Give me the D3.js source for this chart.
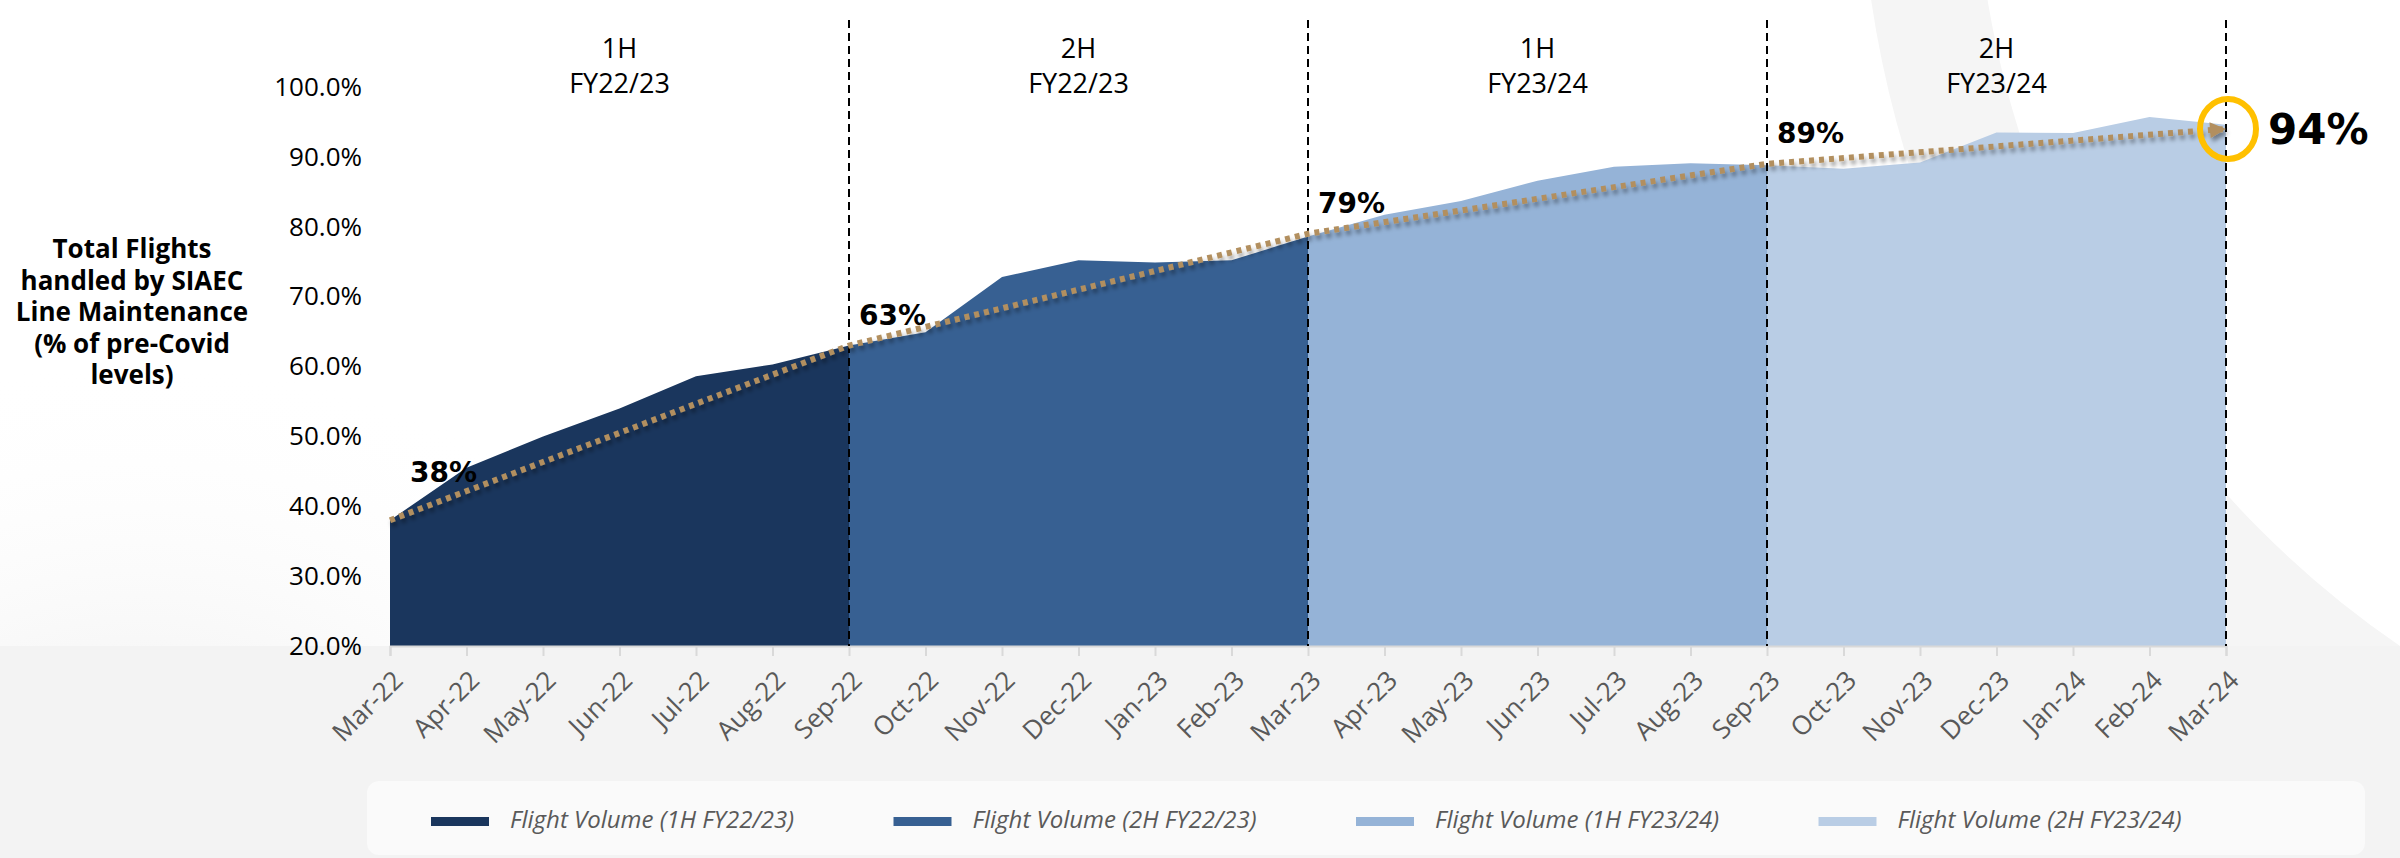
<!DOCTYPE html>
<html>
<head>
<meta charset="utf-8">
<script src="https://cdn.jsdelivr.net/npm/d3@7"></script>
<style>
    body { margin: 0; background: #ffffff; }
    svg { display: block; }
</style>
</head>
<body>
<div id="chart"></div>
<script>
// DATA
var months = ["Mar-22", "Apr-22", "May-22", "Jun-22", "Jul-22", "Aug-22", "Sep-22",
              "Oct-22", "Nov-22", "Dec-22", "Jan-23", "Feb-23", "Mar-23",
              "Apr-23", "May-23", "Jun-23", "Jul-23", "Aug-23", "Sep-23",
              "Oct-23", "Nov-23", "Dec-23", "Jan-24", "Feb-24", "Mar-24"];
var flightVolume = [38.0, 45.5, 50.0, 54.0, 58.6, 60.3, 63.0,
                    64.9, 72.8, 75.2, 74.9, 75.2, 78.6,
                    81.7, 83.7, 86.6, 88.6, 89.1, 88.8,
                    88.3, 89.2, 93.5, 93.4, 95.7, 94.6];

var halfNames = ["1H FY22/23", "2H FY22/23", "1H FY23/24", "2H FY23/24"];
var halfStart = ["Mar-22", "Sep-22", "Mar-23", "Sep-23"];
var halfEnd = ["Sep-22", "Mar-23", "Sep-23", "Mar-24"];
var halfColors = ["#1A365D", "#376092", "#95B3D7", "#B9CDE5"];

var trendMonths = ["Mar-22", "Sep-22", "Mar-23", "Sep-23", "Mar-24"];
var trendValues = [38, 63, 79, 89, 94];

var yTicks = [20, 30, 40, 50, 60, 70, 80, 90, 100];
var yTitle = ["Total Flights", "handled by SIAEC", "Line Maintenance", "(% of pre-Covid", "levels)"];


// SETUP
var svgWidth = 2400;
var svgHeight = 858;
var margins = { top: 87, bottom: 212, left: 390, right: 174 };

var svg = d3.select("#chart")
    .append("svg")
        .attr("width", svgWidth)
        .attr("height", svgHeight);

var defs = svg.append("defs");

var shadow = defs.append("filter")
    .attr("id", "shadow")
    .attr("x", "-5%").attr("y", "-50%")
    .attr("width", "110%").attr("height", "200%");
shadow.append("feDropShadow")
    .attr("dx", 2).attr("dy", 4)
    .attr("stdDeviation", 2.2)
    .attr("flood-color", "#000")
    .attr("flood-opacity", 0.4);

var leftGlow = defs.append("radialGradient")
    .attr("id", "leftGlow")
    .attr("cx", "0.2").attr("cy", "1").attr("r", "0.9");
leftGlow.append("stop").attr("offset", "0%").attr("stop-color", "#e9e9e9");
leftGlow.append("stop").attr("offset", "100%").attr("stop-color", "#ffffff").attr("stop-opacity", 0);

defs.append("marker")
    .attr("id", "arrow")
    .attr("viewBox", "0 0 10 10")
    .attr("refX", 10).attr("refY", 5)
    .attr("markerUnits", "userSpaceOnUse")
    .attr("markerWidth", 17).attr("markerHeight", 16)
    .attr("orient", "auto")
    .append("path")
        .attr("d", "M0,0 L10,5 L0,10 Z")
        .attr("fill", "#B28F5E");


// BACKGROUND
svg.append("rect")
    .attr("x", 0).attr("y", 0)
    .attr("width", svgWidth).attr("height", svgHeight)
    .attr("fill", "#ffffff");
svg.append("rect")
    .attr("x", 0).attr("y", 300)
    .attr("width", 700).attr("height", 558)
    .attr("fill", "url(#leftGlow)");
svg.append("circle")
    .attr("cx", 2950).attr("cy", -160)
    .attr("r", 1033)
    .attr("fill", "none")
    .attr("stroke", "#f5f5f5")
    .attr("stroke-width", 115);
svg.append("rect")
    .attr("x", 0).attr("y", svgHeight - margins.bottom)
    .attr("width", svgWidth).attr("height", margins.bottom)
    .attr("fill", "#f3f3f3");


// SCALES
var x = d3.scalePoint()
    .domain(months)
    .range([margins.left, svgWidth - margins.right]);

var y = d3.scaleLinear()
    .domain([20, 100])
    .range([svgHeight - margins.bottom, margins.top]);


// AREAS (one per half year)
var area = d3.area()
    .x(d => x(d.month))
    .y0(y(20))
    .y1(d => y(d.value));

halfNames.forEach(function(name, i) {
    var a = months.indexOf(halfStart[i]);
    var b = months.indexOf(halfEnd[i]);
    var pts = [];
    for (var k = a; k <= b; k++) {
        pts.push({ month: months[k], value: flightVolume[k] });
    }
    svg.append("path")
        .datum(pts)
        .attr("fill", halfColors[i])
        .attr("d", area);
});


// AXES
var yAxis = svg.append("g")
    .attr("transform", "translate(" + margins.left + ",0)")
    .call(d3.axisLeft(y)
        .tickValues(yTicks)
        .tickSize(0)
        .tickPadding(28)
        .tickFormat(d => d3.format(".1f")(d) + "%"));
yAxis.select(".domain").remove();
yAxis.selectAll("text")
    .style("font-family", "'Open Sans'")
    .style("font-size", "26px")
    .attr("fill", "#000");

var xAxis = svg.append("g")
    .attr("transform", "translate(0," + y(20) + ")")
    .call(d3.axisBottom(x).tickSize(10).tickPadding(0));
xAxis.select(".domain")
    .attr("stroke", "#d9d9d9")
    .attr("stroke-width", 2);
xAxis.selectAll(".tick line")
    .attr("stroke", "#d9d9d9")
    .attr("stroke-width", 2);
xAxis.selectAll("text")
    .style("font-family", "'Open Sans'")
    .style("font-size", "26px")
    .attr("fill", "#595959")
    .attr("text-anchor", "end")
    .attr("dy", 0)
    .attr("y", 0)
    .attr("transform", "translate(14,36) rotate(-45)");


// HALF-YEAR DIVIDERS AND TITLES
svg.selectAll(".divider")
    .data(halfEnd)
    .enter()
    .append("line")
        .attr("x1", d => x(d)).attr("x2", d => x(d))
        .attr("y1", 20).attr("y2", y(20))
        .attr("stroke", "#000")
        .attr("stroke-width", 2)
        .attr("stroke-dasharray", "8,5");

halfNames.forEach(function(name, i) {
    var cx = (x(halfStart[i]) + x(halfEnd[i])) / 2;
    var parts = name.split(" ");
    var t = svg.append("text")
        .attr("x", cx)
        .attr("text-anchor", "middle")
        .style("font-family", "'Open Sans'")
        .style("font-size", "27px")
        .attr("fill", "#000");
    t.append("tspan").attr("x", cx).attr("y", 58).text(parts[0]);
    t.append("tspan").attr("x", cx).attr("y", 93).text(parts[1]);
});


// TREND LINE
var trendPts = trendMonths.map((m, i) => ({ month: m, value: trendValues[i] }));
svg.append("path")
    .datum(trendPts)
    .attr("fill", "none")
    .attr("stroke", "#B28F5E")
    .attr("stroke-width", 6)
    .attr("stroke-dasharray", "5,5")
    .attr("marker-end", "url(#arrow)")
    .attr("filter", "url(#shadow)")
    .attr("d", d3.line()
        .x(d => x(d.month))
        .y(d => y(d.value)));

// Trend labels
svg.selectAll(".trendLabel")
    .data(trendPts.slice(0, trendPts.length - 1))
    .enter()
    .append("text")
        .attr("x", (d, i) => x(d.month) + (i == 0 ? 20 : 10))
        .attr("y", (d, i) => y(d.value) - (i == 0 ? 38 : 21))
        .style("font-family", "'DejaVu Sans'")
        .style("font-weight", "bold")
        .style("font-size", "28px")
        .attr("fill", "#000")
        .text(d => d.value + "%");

// Highlight last point
var last = trendPts[trendPts.length - 1];
svg.append("ellipse")
    .attr("cx", x(last.month) + 2)
    .attr("cy", y(last.value))
    .attr("rx", 28)
    .attr("ry", 30)
    .attr("fill", "none")
    .attr("stroke", "#FFC000")
    .attr("stroke-width", 6);
svg.append("text")
    .attr("x", x(last.month) + 42)
    .attr("y", y(last.value) + 15)
    .style("font-family", "'DejaVu Sans'")
    .style("font-weight", "bold")
    .style("font-size", "42px")
    .attr("fill", "#000")
    .text(last.value + "%");


// Y TITLE
var title = svg.append("text")
    .attr("text-anchor", "middle")
    .style("font-family", "'Open Sans'")
    .style("font-weight", "bold")
    .style("font-size", "26px")
    .attr("fill", "#000");
yTitle.forEach(function(line, i) {
    title.append("tspan")
        .attr("x", 132)
        .attr("y", 258 + i * 31.5)
        .text(line);
});


// LEGEND
svg.append("rect")
    .attr("x", 367).attr("y", 781)
    .attr("width", 1998).attr("height", 74)
    .attr("rx", 12)
    .attr("fill", "#fafafa");

var legend = svg.selectAll(".legend")
    .data(halfNames)
    .enter()
    .append("g")
        .attr("transform", (d, i) => "translate(" + (431 + i * 462.5) + ",822)");
legend.append("rect")
    .attr("x", 0).attr("y", -5)
    .attr("width", 58).attr("height", 9)
    .attr("fill", (d, i) => halfColors[i]);
legend.append("text")
    .attr("x", 79)
    .attr("y", 0)
    .attr("dominant-baseline", "middle")
    .style("font-family", "'Open Sans'")
    .style("font-style", "italic")
    .style("font-size", "24px")
    .attr("fill", "#595959")
    .text(d => "Flight Volume (" + d + ")");
</script>
</body>
</html>
